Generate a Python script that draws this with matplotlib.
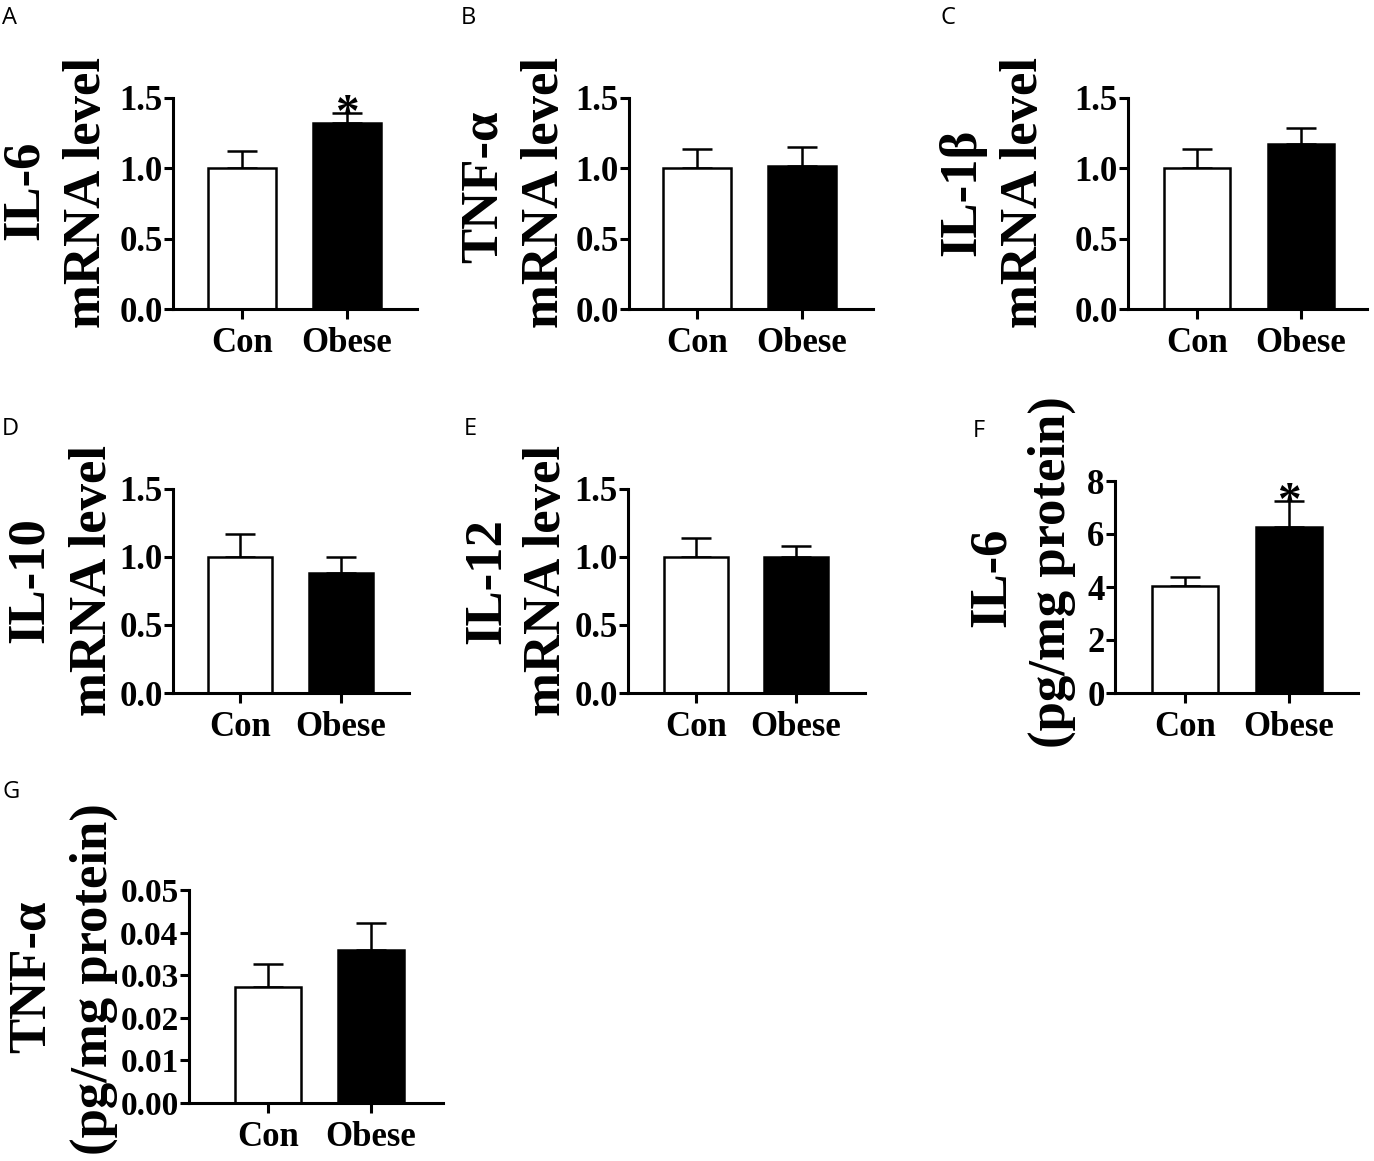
import matplotlib
matplotlib.use("Agg")
import matplotlib.pyplot as plt

# groups and values (mean, upper SEM)
groups = ["Con", "Obese"]

il6_mrna = [1.00, 1.32]
il6_mrna_err = [0.12, 0.07]
tnf_mrna = [1.00, 1.02]
tnf_mrna_err = [0.14, 0.13]
il1b_mrna = [1.00, 1.17]
il1b_mrna_err = [0.14, 0.12]
il10_mrna = [1.00, 0.88]
il10_mrna_err = [0.17, 0.12]
il12_mrna = [1.00, 1.00]
il12_mrna_err = [0.14, 0.08]
il6_protein = [4.02, 6.27]
il6_protein_err = [0.35, 0.96]
tnf_protein = [0.0273, 0.0359]
tnf_protein_err = [0.0053, 0.0064]

mrna_ticks = [0.0, 0.5, 1.0, 1.5]
mrna_ticklabels = ["0.0", "0.5", "1.0", "1.5"]
il6p_ticks = [0, 2, 4, 6, 8]
il6p_ticklabels = ["0", "2", "4", "6", "8"]
tnfp_ticks = [0.0, 0.01, 0.02, 0.03, 0.04, 0.05]
tnfp_ticklabels = ["0.00", "0.01", "0.02", "0.03", "0.04", "0.05"]

W, H = 1374, 1161
serif = "Liberation Serif"

# letter, ylabel lines, values, errors, ticks, ticklabels, signif,
# axes box px (l, r, top, bottom), xlim, letter baseline px,
# ylabel baselines px [(x, ycentre), (x, ycentre)], y tick font size
panels = [
    ("A", ["IL-6", "mRNA level"], il6_mrna, il6_mrna_err, mrna_ticks, mrna_ticklabels, True,
     (173, 417, 98, 309), (-0.657, 1.667), (2, 24), [(38, 190), (100, 192)], 25),
    ("B", ["TNF-α", "mRNA level"], tnf_mrna, tnf_mrna_err, mrna_ticks, mrna_ticklabels, False,
     (629, 873, 98, 309), (-0.648, 1.676), (461, 24), [(497, 187), (558, 192)], 25),
    ("C", ["IL-1β", "mRNA level"], il1b_mrna, il1b_mrna_err, mrna_ticks, mrna_ticklabels, False,
     (1128, 1367, 98, 309), (-0.663, 1.635), (941, 24), [(975, 192), (1037, 192)], 25),
    ("D", ["IL-10", "mRNA level"], il10_mrna, il10_mrna_err, mrna_ticks, mrna_ticklabels, False,
     (173, 409, 489, 693), (-0.663, 1.673), (2, 435), [(43, 580), (106, 580)], 25),
    ("E", ["IL-12", "mRNA level"], il12_mrna, il12_mrna_err, mrna_ticks, mrna_ticklabels, False,
     (628, 865, 489, 693), (-0.68, 1.69), (464, 435), [(500, 581), (560, 580)], 25),
    ("F", ["IL-6", "(pg/mg protein)"], il6_protein, il6_protein_err, il6p_ticks, il6p_ticklabels, True,
     (1115, 1358, 481, 693), (-0.673, 1.663), (973, 437), [(1005, 577), (1065, 572)], 25),
    ("G", ["TNF-α", "(pg/mg protein)"], tnf_protein, tnf_protein_err, tnfp_ticks, tnfp_ticklabels, False,
     (189, 443, 890, 1103), (-0.767, 1.699), (2, 798), [(45, 977), (107, 979)], 24),
]

fig = plt.figure(figsize=(W / 100, H / 100), dpi=100)

for (letter, ylines, vals, errs, ticks, tlabels, signif,
     box, xlim, lpos, ypos, tsize) in panels:
    l, r, t, b = box
    ax = fig.add_axes([l / W, 1 - b / H, (r - l) / W, (b - t) / H])
    x = list(range(len(groups)))
    ax.bar(x, vals, width=0.64, color=["white", "black"], edgecolor="black",
           linewidth=1.8, zorder=2)
    ax.errorbar(x, vals, yerr=[[0, 0], errs], fmt="none", ecolor="black",
                elinewidth=1.8, capsize=11, capthick=1.8, zorder=1)
    ax.set_xlim(*xlim)
    ax.set_ylim(ticks[0], ticks[-1])
    ax.set_yticks(ticks)
    ax.set_yticklabels(tlabels)
    ax.set_xticks(x)
    ax.set_xticklabels(groups)
    for s in ["top", "right"]:
        ax.spines[s].set_visible(False)
    for s in ["left", "bottom"]:
        ax.spines[s].set_linewidth(2.2)
    ax.tick_params(axis="y", length=6.5, width=2.2, pad=1)
    ax.tick_params(axis="x", length=7, width=2.2, pad=6)
    for lab in ax.get_xticklabels():
        lab.set_fontfamily(serif)
        lab.set_fontweight("bold")
        lab.set_fontsize(25)
    for lab in ax.get_yticklabels():
        lab.set_fontfamily(serif)
        lab.set_fontweight("bold")
        lab.set_fontsize(tsize)
    if signif:
        ax.annotate("*", (1, vals[1] + errs[1]), xytext=(0, -9),
                    textcoords="offset points", ha="center", va="baseline",
                    fontsize=34, fontweight="bold", fontfamily=serif,
                    annotation_clip=False)
    fig.text(lpos[0] / W, 1 - lpos[1] / H, letter, ha="left", va="baseline",
             fontsize=17, fontfamily="Open Sans")
    for line, (bx, cy) in zip(ylines, ypos):
        fig.text(bx / W, 1 - cy / H, line, rotation=90, rotation_mode="anchor",
                 ha="center", va="baseline", fontsize=38, fontweight="bold",
                 fontfamily=serif)

fig.savefig("out.png", dpi=100)
